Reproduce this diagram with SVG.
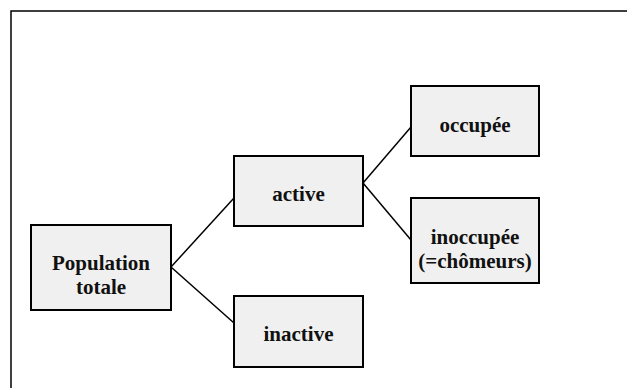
<svg xmlns="http://www.w3.org/2000/svg" width="627" height="388" viewBox="0 0 627 388">
<style>
.box{fill:#f0f0f0;stroke:#000;stroke-width:2}
.lbl{font-family:"Liberation Serif","Times New Roman",serif;font-weight:bold;font-size:21px;fill:#111;text-anchor:middle}
.conn{stroke:#000;stroke-width:1.5;fill:none}
</style>
<rect x="11" y="11" width="630" height="390" fill="#fff" stroke="#000" stroke-width="1.5"/>
<g id="connectors">
<line class="conn" x1="171" y1="267" x2="234" y2="198"/>
<line class="conn" x1="171" y1="267" x2="234" y2="323"/>
<line class="conn" x1="363" y1="183" x2="411" y2="127"/>
<line class="conn" x1="363" y1="183" x2="411" y2="240"/>
</g>
<g id="population">
<rect class="box" x="31" y="225" width="140" height="85"/>
<text class="lbl" x="101" y="270">Population</text>
<text class="lbl" x="101" y="294">totale</text>
</g>
<g id="active">
<rect class="box" x="234" y="156" width="129" height="70"/>
<text class="lbl" x="298.5" y="201">active</text>
</g>
<g id="inactive">
<rect class="box" x="234" y="296" width="129" height="71"/>
<text class="lbl" x="298.5" y="341">inactive</text>
</g>
<g id="occupee">
<rect class="box" x="411" y="86" width="128" height="70"/>
<text class="lbl" x="475" y="132">occupée</text>
</g>
<g id="inoccupee">
<rect class="box" x="411" y="198" width="128" height="85"/>
<text class="lbl" x="475" y="244">inoccupée</text>
<text class="lbl" x="475" y="268">(=chômeurs)</text>
</g>
</svg>
